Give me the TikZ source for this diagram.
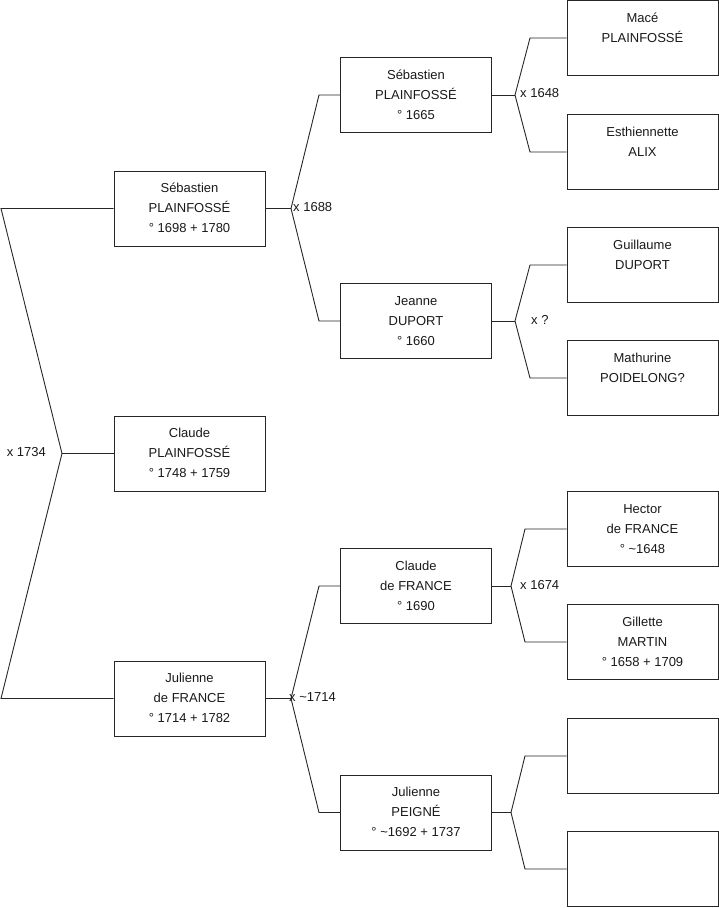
\documentclass[tikz,border=0pt]{standalone}
\usepackage{fontspec}
\setmainfont{Liberation Sans}
\begin{document}
\begin{tikzpicture}[x=1pt,y=-1pt,
  person/.style={draw=black!85, line width=0.9pt, minimum width=151pt, minimum height=75pt,
    inner sep=0pt, align=center, font=\fontsize{13}{20}\selectfont, text=black!90},
  link/.style={draw=black!85, line width=0.9pt},
  mar/.style={font=\fontsize{13}{15}\selectfont, inner sep=0pt, text=black!90}]
\useasboundingbox (0,0) rectangle (719,908);
% generation 1
\node[person] (s1) at (189.5,208.5) {\strut Sébastien\\PLAINFOSSÉ\\° 1698 + 1780\strut};
\node[person] (c1) at (189.5,453.5) {\strut Claude\\PLAINFOSSÉ\\° 1748 + 1759\strut};
\node[person] (j1) at (189.5,698.5) {\strut Julienne\\de FRANCE\\° 1714 + 1782\strut};
% generation 2
\node[person] (s2) at (416,95) {\strut Sébastien\\PLAINFOSSÉ\\° 1665\strut};
\node[person] (d2) at (416,321) {\strut Jeanne\\DUPORT\\° 1660\strut};
\node[person] (f2) at (416,586) {\strut Claude\\de FRANCE\\° 1690\strut};
\node[person] (p2) at (416,812.5) {\strut Julienne\\PEIGNÉ\\° \textasciitilde 1692 + 1737\strut};
% generation 3
\node[person] (m3) at (642.5,38) {\strut Macé\\PLAINFOSSÉ\\\strut};
\node[person] (a3) at (642.5,152) {\strut Esthiennette\\ALIX\\\strut};
\node[person] (g3) at (642.5,265) {\strut Guillaume\\DUPORT\\\strut};
\node[person] (po3) at (642.5,378) {\strut Mathurine\\POIDELONG?\\\strut};
\node[person] (h3) at (642.5,529) {\strut Hector\\de FRANCE\\° \textasciitilde 1648\strut};
\node[person] (ma3) at (642.5,642) {\strut Gillette\\MARTIN\\° 1658 + 1709\strut};
\node[person] (e1) at (642.5,756) {};
\node[person] (e2) at (642.5,869) {};
% junction coordinates
\coordinate (rt) at (1,208.5);
\coordinate (ra) at (62,453.5);
\coordinate (rb) at (1,698.5);
\coordinate (sa) at (291,208.5);
\coordinate (st) at (319,95);
\coordinate (sb) at (319,321);
\coordinate (ja) at (291,698.5);
\coordinate (jt) at (319,586);
\coordinate (jb) at (319,812.5);
\coordinate (s2a) at (515,95);
\coordinate (s2t) at (530,38);
\coordinate (s2b) at (530,152);
\coordinate (d2a) at (515,321);
\coordinate (d2t) at (530,265);
\coordinate (d2b) at (530,378);
\coordinate (f2a) at (511,586);
\coordinate (f2t) at (525,529);
\coordinate (f2b) at (525,642);
\coordinate (p2a) at (511,812.5);
\coordinate (p2t) at (525,756);
\coordinate (p2b) at (525,869);
% connectors
\draw[link] (s1.west) -- (rt) -- (ra) -- (rb) -- (j1.west);
\draw[link] (ra) -- (c1.west);
\draw[link] (s1.east) -- (sa);
\draw[link] (s2.west) -- (st) -- (sa) -- (sb) -- (d2.west);
\draw[link] (j1.east) -- (ja);
\draw[link] (f2.west) -- (jt) -- (ja) -- (jb) -- (p2.west);
\draw[link] (s2.east) -- (s2a);
\draw[link] (m3.west) -- (s2t) -- (s2a) -- (s2b) -- (a3.west);
\draw[link] (d2.east) -- (d2a);
\draw[link] (g3.west) -- (d2t) -- (d2a) -- (d2b) -- (po3.west);
\draw[link] (f2.east) -- (f2a);
\draw[link] (h3.west) -- (f2t) -- (f2a) -- (f2b) -- (ma3.west);
\draw[link] (p2.east) -- (p2a);
\draw[link] (e1.west) -- (p2t) -- (p2a) -- (p2b) -- (e2.west);
% marriage labels
\node[mar, anchor=east] (l1734) at (46,452) {x 1734};
\node[mar, anchor=west] (l1688) at (293,207) {x 1688};
\node[mar, anchor=west] (l1714) at (289,697) {x \textasciitilde 1714};
\node[mar, anchor=west] (l1648) at (520,93) {x 1648};
\node[mar, anchor=west] (lq) at (531,320) {x ?};
\node[mar, anchor=west] (l1674) at (520,585) {x 1674};
\end{tikzpicture}
\end{document}
